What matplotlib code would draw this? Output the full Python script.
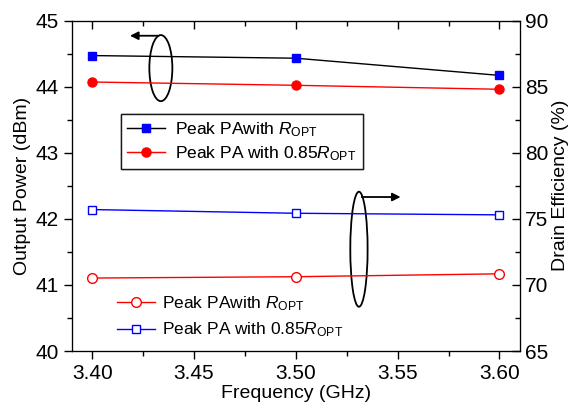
import matplotlib.pyplot as plt
from matplotlib.patches import Ellipse
from matplotlib.ticker import MultipleLocator

plt.rcParams['font.family'] = ['Liberation Sans', 'DejaVu Sans']
plt.rcParams['mathtext.fontset'] = 'custom'
plt.rcParams['mathtext.rm'] = 'Liberation Sans'
plt.rcParams['mathtext.it'] = 'Liberation Sans:italic'

# Data
freq = [3.40, 3.50, 3.60]
pout_ropt = [44.47, 44.43, 44.17]
pout_085 = [44.07, 44.02, 43.96]
de_ropt = [70.52, 70.62, 70.84]
de_085 = [75.70, 75.42, 75.30]

lab_ropt = r'Peak PAwith $\mathit{R}_{\mathrm{OPT}}$'
lab_085 = r'Peak PA with 0.85$\mathit{R}_{\mathrm{OPT}}$'

fig = plt.figure(figsize=(5.75, 4.05), dpi=100)
ax = fig.add_axes([0.125, 0.1333, 0.779, 0.816])
ax2 = ax.twinx()
ax3 = ax.twiny()  # top ticks pointing in

# Output power (left axis)
l1, = ax.plot(freq, pout_ropt, color='black', lw=1, marker='s', ms=6,
              mfc='blue', mec='blue', label=lab_ropt)
l2, = ax.plot(freq, pout_085, color='red', lw=1, marker='o', ms=6.5,
              mfc='red', mec='red', label=lab_085)

# Drain efficiency (right axis)
l3, = ax2.plot(freq, de_ropt, color='red', lw=1, marker='o', ms=7,
               mfc='white', mec='red', label=lab_ropt)
l4, = ax2.plot(freq, de_085, color='blue', lw=1, marker='s', ms=6,
               mfc='white', mec='blue', label=lab_085)

xt = [3.40, 3.45, 3.50, 3.55, 3.60]
for a in (ax, ax3):
    a.set_xlim(3.39, 3.61)
    a.set_xticks(xt)
    a.xaxis.set_minor_locator(MultipleLocator(0.025))
ax.set_xticklabels(['3.40', '3.45', '3.50', '3.55', '3.60'])
ax3.tick_params(axis='x', which='both', direction='in', labeltop=False, width=1)
ax3.tick_params(which='major', length=6)
ax3.tick_params(which='minor', length=3.5)

ax.set_ylim(40, 45)
ax2.set_ylim(65, 90)
ax.yaxis.set_minor_locator(MultipleLocator(0.5))
ax2.yaxis.set_minor_locator(MultipleLocator(2.5))

ax.tick_params(axis='both', which='both', labelsize=15, width=1, direction='out')
ax.tick_params(which='major', length=6)
ax.tick_params(which='minor', length=3.5)
ax2.tick_params(axis='y', which='both', direction='in', labelsize=15, width=1)
ax2.tick_params(which='major', length=6)
ax2.tick_params(which='minor', length=3.5)

ax.set_xlabel('Frequency (GHz)', fontsize=14, labelpad=1)
ax.set_ylabel('Output Power (dBm)', fontsize=14, labelpad=3)
ax2.set_ylabel('Drain Efficiency (%)', fontsize=14, labelpad=3)

# Legends
leg1 = ax.legend(handles=[l1, l2], loc='upper left', bbox_to_anchor=(0.109, 0.717),
                 fontsize=12.5, frameon=True, fancybox=False, edgecolor='black',
                 handlelength=2.2, borderpad=0.35, labelspacing=0.3,
                 borderaxespad=0, handletextpad=0.6)
leg1.get_frame().set_linewidth(1)
ax.add_artist(leg1)
ax2.legend(handles=[l3, l4], loc='upper left', bbox_to_anchor=(0.085, 0.193),
           fontsize=12.5, frameon=False, handlelength=2.2, labelspacing=0.45,
           borderaxespad=0, handletextpad=0.4)

# Annotations: ellipses with arrows
ax.add_patch(Ellipse((3.4337, 44.28), 0.0113, 1.0, fill=False, ec='black', lw=1.3))
ax.annotate('', xy=(3.4172, 44.77), xytext=(3.4339, 44.77),
            arrowprops=dict(arrowstyle='-|>', color='black', lw=1.3, mutation_scale=12))
ax.add_patch(Ellipse((3.531, 41.54), 0.0085, 1.74, fill=False, ec='black', lw=1.3))
ax.annotate('', xy=(3.5528, 42.33), xytext=(3.531, 42.33),
            arrowprops=dict(arrowstyle='-|>', color='black', lw=1.3, mutation_scale=12))

fig.savefig('out.png', dpi=100)
